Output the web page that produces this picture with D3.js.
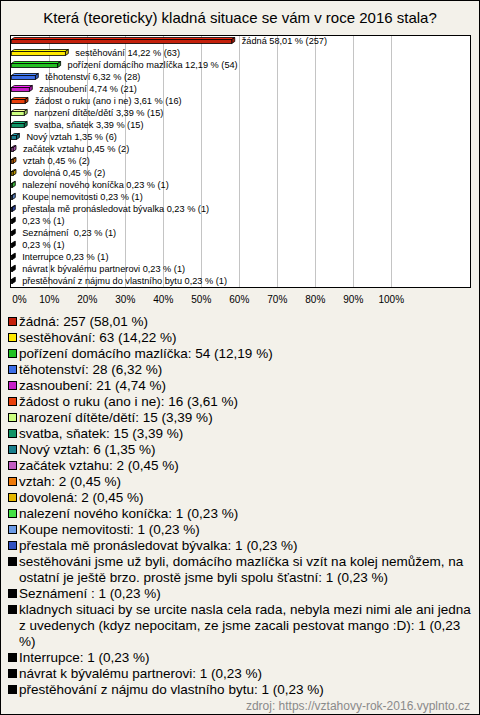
<!DOCTYPE html>
<html><head><meta charset="utf-8">
<script src="https://cdn.jsdelivr.net/npm/d3@7"></script>
<style>
html,body{margin:0;padding:0;background:#f3f1ea;}
svg{display:block;font-family:"Liberation Sans",Arial,sans-serif;}
</style></head>
<body>
<svg id="chart" width="480" height="715"></svg>
<script>
const title = "Která (teoreticky) kladná situace se vám v roce 2016 stala?";
const categories = [
  "žádná", "sestěhování", "pořízení domácího mazlíčka", "těhotenství", "zasnoubení",
  "žádost o ruku (ano i ne)", "narození dítěte/dětí", "svatba, sňatek", "Nový vztah",
  "začátek vztahu", "vztah", "dovolená", "nalezení nového koníčka", "Koupe nemovitosti",
  "přestala mě pronásledovat bývalka",
  "sestěhováni jsme už byli, domácího mazlíčka si vzít na kolej nemůžem, na ostatní je ještě brzo. prostě jsme byli spolu šťastní",
  "Seznámení ",
  "kladnych situaci by se urcite nasla cela rada, nebyla mezi nimi ale ani jedna z uvedenych (kdyz nepocitam, ze jsme zacali pestovat mango :D)",
  "Interrupce", "návrat k bývalému partnerovi", "přestěhování z nájmu do vlastního bytu"
];
const barNames = [
  "žádná", "sestěhování", "pořízení domácího mazlíčka", "těhotenství", "zasnoubení",
  "žádost o ruku (ano i ne)", "narození dítěte/dětí", "svatba, sňatek", "Nový vztah",
  "začátek vztahu", "vztah", "dovolená", "nalezení nového koníčka", "Koupe nemovitosti",
  "přestala mě pronásledovat bývalka", "", "Seznámení ", "", "Interrupce",
  "návrat k bývalému partnerovi", "přestěhování z nájmu do vlastního bytu"
];
const counts = [257, 63, 54, 28, 21, 16, 15, 15, 6, 2, 2, 2, 1, 1, 1, 1, 1, 1, 1, 1, 1];
const percents = [58.01, 14.22, 12.19, 6.32, 4.74, 3.61, 3.39, 3.39, 1.35, 0.45, 0.45, 0.45,
  0.23, 0.23, 0.23, 0.23, 0.23, 0.23, 0.23, 0.23, 0.23];
const colors = ["#c4200c", "#ffe800", "#22c022", "#3c6ee6", "#c81ec8", "#e8400c", "#ccff80",
  "#119466", "#1a7f8c", "#c25ec2", "#ee7a0a", "#e6b800", "#44e044", "#6b9be6", "#3050c0",
  "#000000", "#000000", "#000000", "#000000", "#000000", "#000000"];
const tickValues = [0, 10, 20, 30, 40, 50, 60, 70, 80, 90, 100];
const source = "zdroj: https://vztahovy-rok-2016.vyplnto.cz";

const fmt = v => v.toFixed(2).replace(".", ",");
const svg = d3.select("#chart");
const W = 480, H = 715;

svg.append("rect").attr("x", 0.5).attr("y", 0.5).attr("width", W - 1).attr("height", H - 1)
  .attr("fill", "#f3f1ea").attr("stroke", "#000");

svg.append("text").attr("x", 240).attr("y", 23).attr("text-anchor", "middle")
  .attr("font-size", 15).attr("fill", "#000").text(title);

const plot = {left: 10.5, top: 35.5, right: 470.5, bottom: 287.5};
const x = d3.scaleLinear().domain([0, 100]).range([11.3, 391.3]);
const y = d3.scaleBand().domain(d3.range(categories.length)).range([35, 287]);

svg.append("rect").attr("x", plot.left).attr("y", plot.top)
  .attr("width", plot.right - plot.left).attr("height", plot.bottom - plot.top)
  .attr("fill", "#fff");

// grid lines
svg.append("g").selectAll("line").data(tickValues.filter(t => t > 0)).join("line")
  .attr("x1", d => Math.round(x(d)) + 0.5).attr("x2", d => Math.round(x(d)) + 0.5)
  .attr("y1", plot.top).attr("y2", plot.bottom)
  .attr("stroke", "#c4c4c4").attr("stroke-width", 1);

svg.append("rect").attr("x", plot.left).attr("y", plot.top)
  .attr("width", plot.right - plot.left).attr("height", plot.bottom - plot.top)
  .attr("fill", "none").attr("stroke", "#000");

// bars (3D style)
const dx = 3, dy = 2, bh = 4;
const bars = svg.append("g").selectAll("g").data(percents).join("g");
bars.each(function (p, i) {
  const g = d3.select(this);
  const x0 = x(0), x1 = Math.max(x(p), x0 + 1);
  const yc = y(i) + y.bandwidth() / 2;
  const yt = yc - bh / 2 + 0.5, yb = yt + bh;
  const c = d3.color(colors[i]);
  const top = i >= 15 ? "#fff" : c.brighter(0.6).formatHex();
  const side = c.darker(0.6).formatHex();
  g.append("polygon")
    .attr("points", [[x0, yt], [x0 + dx, yt - dy], [x1 + dx, yt - dy], [x1, yt]].join(" "))
    .attr("fill", top).attr("stroke", "#000").attr("stroke-width", 0.8).attr("stroke-linejoin", "round");
  g.append("polygon")
    .attr("points", [[x1, yt], [x1 + dx, yt - dy], [x1 + dx, yb - dy], [x1, yb]].join(" "))
    .attr("fill", side).attr("stroke", "#000").attr("stroke-width", 0.8).attr("stroke-linejoin", "round");
  g.append("rect").attr("x", x0).attr("y", yt).attr("width", x1 - x0).attr("height", bh)
    .attr("fill", colors[i]).attr("stroke", "#000").attr("stroke-width", 0.8);
});

// bar labels
svg.append("g").selectAll("text").data(percents).join("text")
  .attr("x", d => x(d) + 10)
  .attr("y", (d, i) => y(i) + y.bandwidth() / 2 + 3.2)
  .attr("font-size", 9.2).attr("fill", "#000")
  .attr("xml:space", "preserve")
  .text((d, i) => (barNames[i] ? barNames[i] + " " : "") + fmt(d) + " % (" + counts[i] + ")");

// x tick labels
svg.append("g").selectAll("text").data(tickValues).join("text")
  .attr("x", d => d === 0 ? x(d) + 1 : x(d))
  .attr("y", 303)
  .attr("text-anchor", d => d === 0 ? "start" : "middle")
  .attr("font-size", 10).attr("fill", "#000")
  .text(d => d + "%");

// legend
const legendX = 19, lineH = 16, maxW = 458;
let ly = 321;
const lg = svg.append("g").attr("font-size", 13.5);
categories.forEach((name, i) => {
  const full = name + ": " + counts[i] + " (" + fmt(percents[i]) + " %)";
  const words = full.split(" ");
  const t = lg.append("text").attr("x", legendX).attr("y", ly + 4.8).attr("fill", "#000");
  let line = [], lines = [];
  let ts = t.append("tspan").attr("x", legendX);
  words.forEach(w => {
    line.push(w);
    ts.text(line.join(" "));
    if (ts.node().getComputedTextLength() > maxW && line.length > 1) {
      line.pop();
      ts.text(line.join(" "));
      lines.push(ts);
      line = [w];
      ts = t.append("tspan").attr("x", legendX).attr("dy", lineH).text(w);
    }
  });
  lines.push(ts);
  lg.append("rect").attr("x", 8.5).attr("y", ly - 3.5).attr("width", 8).attr("height", 8)
    .attr("fill", colors[i]).attr("stroke", "#000").attr("stroke-width", 1);
  ly += lineH * lines.length;
});

svg.append("text").attr("x", 470).attr("y", 710).attr("text-anchor", "end")
  .attr("font-size", 12).attr("fill", "#8a8a8a").text(source);
</script>
</body></html>
